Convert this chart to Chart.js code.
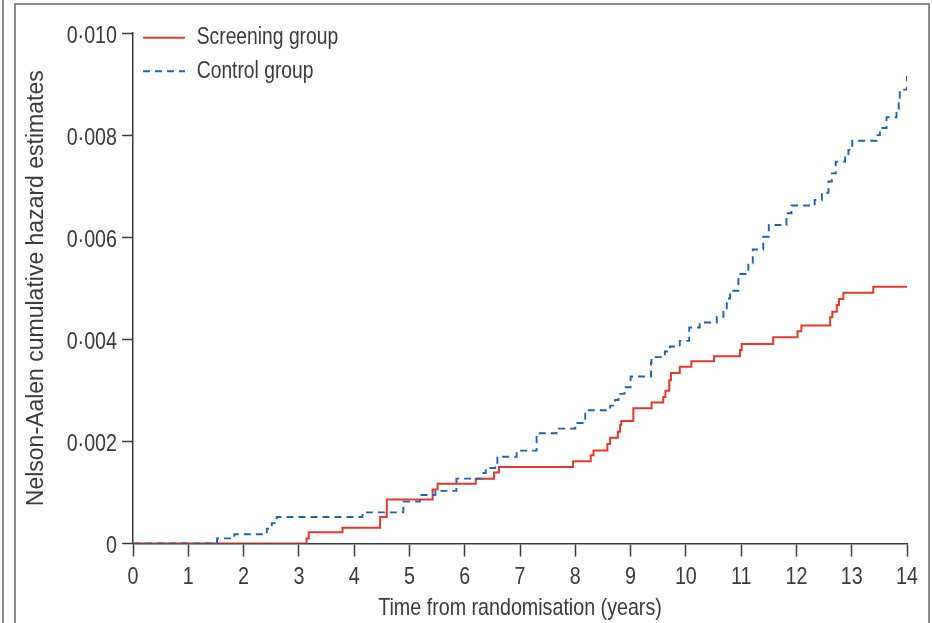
<!DOCTYPE html>
<html>
<head>
<meta charset="utf-8">
<script src="https://cdn.jsdelivr.net/npm/chart.js@4.4.1/dist/chart.umd.min.js"></script>
<style>
  html, body { margin: 0; padding: 0; background: #ffffff; width: 932px; height: 623px; overflow: hidden; }
  #wrap { position: relative; width: 932px; height: 623px; }
  #c { position: absolute; left: 0; top: 0; }
  .frame { position: absolute; left: 14px; top: 3px; width: 912px; height: 640px; border: 2px solid #8c8c8c; border-bottom: none; }
  .lline { position: absolute; left: 2px; top: 0; width: 2px; height: 623px; background: #8c8c8c; }
</style>
</head>
<body>
<div id="wrap">
  <div class="lline"></div>
  <div class="frame"></div>
  <canvas id="c" width="932" height="623"></canvas>
</div>
<script>
// ---- Data (step times in years, cumulative hazard) ----
const seriesNames = ["Screening group", "Control group"];

const screeningTimes = [0, 3.14, 3.18, 3.79, 4.47, 4.59, 5.42, 5.51, 6.20, 6.53, 6.62, 7.96, 8.28, 8.33, 8.58, 8.63, 8.77, 8.81, 8.83, 9.05, 9.38, 9.59, 9.63, 9.70, 9.73, 9.89, 10.10, 10.51, 10.98, 11.01, 11.58, 12.02, 12.09, 12.61, 12.65, 12.73, 12.77, 12.85, 13.39, 14.00];
const screeningHazard = [0, 0.00010, 0.00022, 0.00031, 0.00052, 0.00086, 0.00106, 0.00117, 0.00127, 0.00139, 0.00150, 0.00161, 0.00173, 0.00182, 0.00195, 0.00207, 0.00219, 0.00232, 0.00240, 0.00265, 0.00276, 0.00287, 0.00299, 0.00320, 0.00334, 0.00346, 0.00357, 0.00367, 0.00379, 0.00391, 0.00404, 0.00416, 0.00427, 0.00443, 0.00454, 0.00467, 0.00479, 0.00491, 0.00503, 0.00503];

const controlTimes = [0, 1.52, 1.83, 2.42, 2.51, 2.60, 4.15, 4.89, 5.19, 5.47, 5.85, 6.32, 6.38, 6.55, 6.59, 6.94, 7.30, 7.66, 8.00, 8.18, 8.63, 8.72, 8.78, 8.89, 9.00, 9.37, 9.38, 9.62, 9.71, 9.89, 10.06, 10.25, 10.56, 10.68, 10.74, 10.80, 10.95, 11.13, 11.21, 11.40, 11.50, 11.82, 11.91, 12.33, 12.46, 12.58, 12.64, 12.71, 12.88, 12.94, 13.01, 13.45, 13.51, 13.63, 13.81, 13.85, 13.87, 14.00];
const controlHazard = [0, 0.00010, 0.00018, 0.00029, 0.00040, 0.00052, 0.00061, 0.00082, 0.00095, 0.00103, 0.00127, 0.00138, 0.00148, 0.00158, 0.00170, 0.00182, 0.00216, 0.00225, 0.00236, 0.00261, 0.00270, 0.00281, 0.00293, 0.00306, 0.00327, 0.00354, 0.00365, 0.00376, 0.00386, 0.00397, 0.00423, 0.00433, 0.00444, 0.00457, 0.00480, 0.00495, 0.00528, 0.00549, 0.00576, 0.00601, 0.00624, 0.00647, 0.00662, 0.00673, 0.00687, 0.00709, 0.00725, 0.00748, 0.00761, 0.00771, 0.00789, 0.00800, 0.00814, 0.00835, 0.00851, 0.00873, 0.00889, 0.00916];

const xTicks = [0, 1, 2, 3, 4, 5, 6, 7, 8, 9, 10, 11, 12, 13, 14];
const yTicks = [0, 0.002, 0.004, 0.006, 0.008, 0.010];
const yTickLabels = ["0", "0·002", "0·004", "0·006", "0·008", "0·010"];
const xTitle = "Time from randomisation (years)";
const yTitle = "Nelson-Aalen cumulative hazard estimates";

// ---- Condensed text rendering (no narrow face installed): squeeze glyphs horizontally ----
const NARROW = "'Liberation Sans', sans-serif";
const WIDE = "Arimo, 'Liberation Sans', sans-serif";
const _fillText = CanvasRenderingContext2D.prototype.fillText;
CanvasRenderingContext2D.prototype.fillText = function (t, x, y, mw) {
  if (this.font.indexOf('Arimo') < 0) {
    this.save();
    this.translate(x, y);
    this.scale(0.82, 1);
    _fillText.call(this, t, 0, 0, mw);
    this.restore();
  } else {
    _fillText.call(this, t, x, y, mw);
  }
};

// ---- Build chart ----
const toPts = (xs, ys) => xs.map((x, i) => ({ x: x, y: ys[i] }));
const AXIS = '#3a3a3a';

Chart.defaults.font.family = NARROW;
Chart.defaults.color = AXIS;

new Chart(document.getElementById('c'), {
  type: 'line',
  data: {
    datasets: [
      {
        label: seriesNames[0],
        data: toPts(screeningTimes, screeningHazard),
        borderColor: '#e8372c',
        backgroundColor: '#e8372c',
        borderWidth: 2,
        stepped: 'before',
        pointRadius: 0,
        fill: false,
        order: 1
      },
      {
        label: seriesNames[1],
        data: toPts(controlTimes, controlHazard),
        borderColor: '#1f63b0',
        backgroundColor: '#1f63b0',
        borderWidth: 1.9,
        borderDash: [7, 5],
        stepped: 'before',
        pointRadius: 0,
        fill: false,
        order: 0
      }
    ]
  },
  options: {
    responsive: false,
    animation: false,
    layout: { padding: { left: 0, top: 33, right: 25, bottom: 0 } },
    plugins: {
      tooltip: { enabled: false },
      legend: {
        display: true,
        position: 'chartArea',
        align: 'start',
        title: { display: true, text: ' ', font: { size: 10 }, padding: { top: 4, bottom: 0 } },
        labels: {
          usePointStyle: true,
          pointStyle: 'line',
          pointStyleWidth: 42,
          padding: 10,
          color: AXIS,
          font: { size: 23.5, family: NARROW },
          generateLabels: (chart) => chart.data.datasets.map((ds, i) => ({
            text: ds.label,
            strokeStyle: ds.borderColor,
            fillStyle: ds.borderColor,
            lineWidth: 1.8,
            lineDash: ds.borderDash || [],
            pointStyle: 'line',
            hidden: false,
            datasetIndex: i
          }))
        }
      }
    },
    scales: {
      x: {
        type: 'linear',
        min: 0, max: 14,
        afterFit: (s) => { s.height = 79.5; },
        afterBuildTicks: (s) => { s.ticks = xTicks.map(v => ({ value: v })); },
        border: { display: true, color: AXIS, width: 1.5 },
        grid: { drawOnChartArea: false, drawTicks: true, tickLength: 13, tickColor: AXIS, tickWidth: 1.5 },
        ticks: { padding: 6, font: { size: 24, family: NARROW }, color: AXIS, maxRotation: 0, autoSkip: false,
                 callback: (v) => String(v) },
        title: { display: true, text: xTitle, font: { size: 24, family: NARROW }, color: AXIS, padding: { top: 0, bottom: 0 } }
      },
      y: {
        type: 'linear',
        min: 0, max: 0.010,
        afterFit: (s) => { s.width = 133; },
        afterBuildTicks: (s) => { s.ticks = yTicks.map(v => ({ value: v })); },
        border: { display: true, color: AXIS, width: 1.5 },
        grid: { drawOnChartArea: false, drawTicks: true, tickLength: 11, tickColor: AXIS, tickWidth: 1.5 },
        ticks: { padding: 5, labelOffset: 3, font: { size: 24, family: NARROW }, color: AXIS,
                 callback: (v) => { const i = yTicks.findIndex(t => Math.abs(t - v) < 1e-9); return i >= 0 ? yTickLabels[i] : ''; } },
        title: { display: true, text: yTitle, font: { size: 23, family: WIDE }, color: AXIS, padding: { top: 23, bottom: 0 } }
      }
    }
  }
});
</script>
</body>
</html>
